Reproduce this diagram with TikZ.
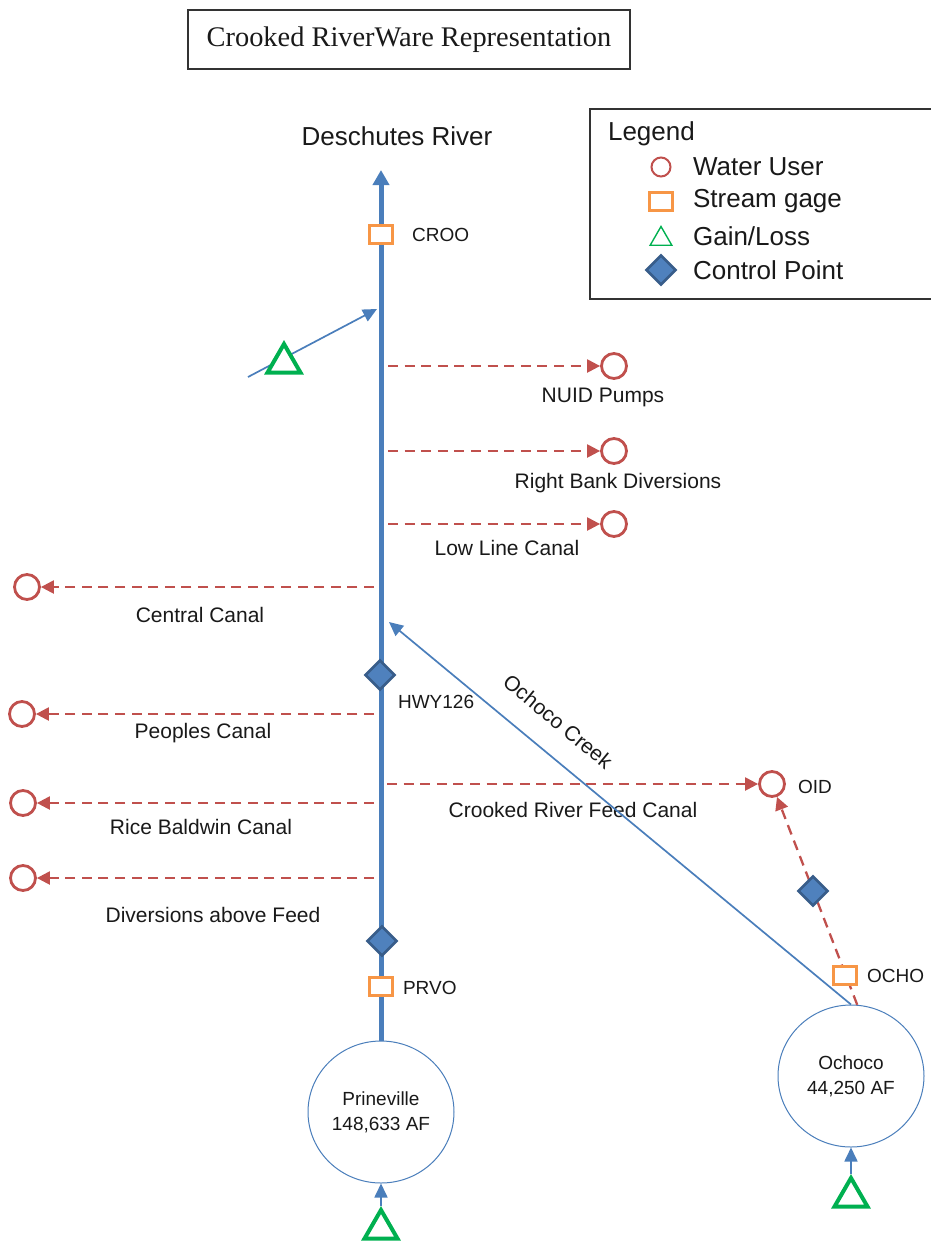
\documentclass[tikz,border=0pt]{standalone}
\usepackage{fontspec}
\setmainfont{Liberation Sans}
\newfontfamily\titlefont{Liberation Serif}
\usetikzlibrary{arrows.meta,shapes.geometric}

\definecolor{riverblue}{HTML}{4A7EBB}
\definecolor{userred}{HTML}{C0504D}
\definecolor{gageorange}{HTML}{F79646}
\definecolor{gaingreen}{HTML}{00B050}
\definecolor{cpfill}{HTML}{4F81BD}
\definecolor{cpedge}{HTML}{385D8A}

\tikzset{
	user/.style={circle, draw=userred, line width=1.4pt, fill=white, minimum size=12.5pt, inner sep=0pt},
	gage/.style={rectangle, draw=gageorange, line width=1.5pt, fill=white, minimum width=11.5pt, minimum height=9pt, inner sep=0pt},
	gainloss/.style={regular polygon, regular polygon sides=3, draw=gaingreen, line width=2pt, fill=white, minimum size=19pt, inner sep=0pt},
	ctrl/.style={diamond, draw=cpedge, line width=1.3pt, fill=cpfill, minimum size=15pt, inner sep=0pt},
	reservoir/.style={ellipse, draw=riverblue, line width=0.5pt, fill=white, minimum width=73pt, minimum height=71pt, inner sep=0pt, align=center, font=\fontsize{9.5}{12.5}\selectfont},
	river/.style={draw=riverblue, line width=2.5pt, -{Triangle[length=7.5pt,width=8pt]}},
	flow/.style={draw=riverblue, line width=0.85pt, -{Triangle[length=7pt,width=6.5pt]}},
	divert/.style={draw=userred, line width=1.15pt, dash pattern=on 5pt off 3.3pt, -{Triangle[length=6.5pt,width=6.5pt]}},
	tag/.style={font=\fontsize{9.5}{11}\selectfont, anchor=west},
	legtext/.style={font=\fontsize{13}{15}\selectfont, anchor=west},
}

\begin{document}
\begin{tikzpicture}[x=0.5pt, y=-0.5pt]
\tikzstyle{every node}=[font=\fontsize{10.5}{12.6}\selectfont, text=black!90]
	\useasboundingbox (0,0) rectangle (931,1243);

	\node[draw=black!80, line width=0.6pt, minimum width=221pt, minimum height=29.5pt, font=\titlefont\fontsize{14.2}{16}\selectfont] (title) at (409,39.5) {Crooked RiverWare Representation};

	\draw[black!80, line width=0.6pt] (590,109) rectangle (933,299);
	\node[legtext] (leg-title) at (601,134) {Legend};
	\node[circle, draw=userred, line width=1pt, fill=white, minimum size=9.5pt, inner sep=0pt] (leg-user) at (661,167) {};
	\node[legtext] at (686,167) {Water User};
	\node[gage] (leg-gage) at (661,201) {};
	\node[legtext] at (686,201) {Stream gage};
	\node[regular polygon, regular polygon sides=3, draw=gaingreen, line width=0.7pt, minimum size=12.5pt, inner sep=0pt] (leg-gain) at (661,239) {};
	\node[legtext] at (686,236) {Gain/Loss};
	\node[ctrl] (leg-ctrl) at (661,270) {};
	\node[legtext] at (686,270) {Control Point};

	\node[font=\fontsize{13}{15}\selectfont] (deschutes) at (397,136) {Deschutes River};
	\coordinate (mouth) at (381,170);
	\node[reservoir] (prineville) at (381,1112) {Prineville\\148,633 AF};
	\node[reservoir] (ochoco) at (851,1076) {Ochoco\\44,250 AF};

	\foreach \nm/\yy/\lx/\ly/\txt in {nuid/366/603/397/{NUID Pumps}, rbank/451/618/483/{Right Bank Diversions}, lowline/524/507/548/{Low Line Canal}}{
		\node[user] (\nm) at (614,\yy) {};
		\coordinate (\nm-off) at (388,\yy);
		\draw[divert] (\nm-off) -- (\nm);
		\node (\nm-lbl) at (\lx,\ly) {\txt};
	}
	\foreach \nm/\xx/\yy/\lx/\ly/\txt in {central/27/587/200/615/{Central Canal}, peoples/22/714/203/733/{Peoples Canal}, rice/23/803/201/827/{Rice Baldwin Canal}, abovefeed/23/878/213/915/{Diversions above Feed}}{
		\node[user] (\nm) at (\xx,\yy) {};
		\coordinate (\nm-off) at (374,\yy);
		\draw[divert] (\nm-off) -- (\nm);
		\node (\nm-lbl) at (\lx,\ly) {\txt};
	}

	\node[user] (oid) at (772,784) {};
	\node[tag] (oid-lbl) at (791,787) {OID};
	\coordinate (feed-off) at (387,784);
	\draw[divert] (feed-off) -- (oid);
	\node (feed-lbl) at (573,810) {Crooked River Feed Canal};
	\draw[divert] (ochoco.85) -- (oid);

	\coordinate (creek-mouth) at (389,622);
	\draw[flow] (ochoco.north) -- (creek-mouth) node[pos=0.677, sloped, above=8pt] (creek-lbl) {Ochoco Creek};

	\draw[river] (prineville) -- (mouth);

	\coordinate (gl-tail) at (248,377);
	\coordinate (gl-tip) at (377,309);
	\draw[flow] (gl-tail) -- (gl-tip);
	\node[gainloss] (gain-top) at (284,363) {};

	\node[gage] (croo) at (381,234) {};
	\node[tag] (croo-lbl) at (405,235) {CROO};
	\node[ctrl] (hwy126) at (380,675) {};
	\node[tag] (hwy126-lbl) at (391,702) {HWY126};
	\node[ctrl] (cp-prine) at (382,941) {};
	\node[gage] (prvo) at (381,986) {};
	\node[tag] (prvo-lbl) at (396,988) {PRVO};

	\node[gage] (ocho) at (845,975) {};
	\node[tag] (ocho-lbl) at (860,976) {OCHO};
	\node[ctrl] (cp-ocho) at (813,891) {};

	\node[gainloss] (gain-prine) at (381,1229) {};
	\draw[flow] (gain-prine.north) -- (prineville.south);
	\node[gainloss] (gain-ocho) at (851,1197) {};
	\draw[flow] (gain-ocho.north) -- (ochoco.south);
\end{tikzpicture}
\end{document}
